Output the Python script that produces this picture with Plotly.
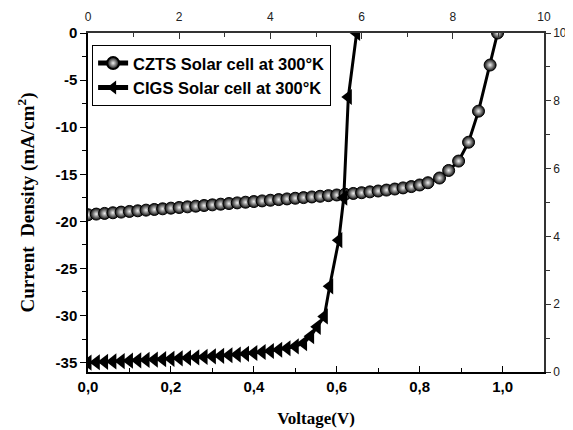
import plotly.graph_objects as go

# CZTS cell, J-V curve
czts_v = [0.00, 0.02, 0.04, 0.06, 0.08, 0.10, 0.12, 0.14, 0.16, 0.18,
          0.20, 0.22, 0.24, 0.26, 0.28, 0.30, 0.32, 0.34, 0.36, 0.38,
          0.40, 0.42, 0.44, 0.46, 0.48, 0.50, 0.52, 0.54, 0.56, 0.58,
          0.60, 0.62, 0.64, 0.66, 0.68, 0.70, 0.72, 0.74, 0.76, 0.78,
          0.80, 0.82, 0.848, 0.870, 0.894, 0.918, 0.942, 0.970, 0.988]
czts_j = [-19.30, -19.23, -19.16, -19.09, -19.02, -18.95, -18.88, -18.81, -18.74, -18.67,
          -18.60, -18.53, -18.46, -18.39, -18.32, -18.25, -18.18, -18.11, -18.04, -17.97,
          -17.90, -17.83, -17.76, -17.69, -17.62, -17.55, -17.48, -17.41, -17.34, -17.27,
          -17.20, -17.12, -17.04, -16.96, -16.87, -16.78, -16.68, -16.57, -16.45, -16.31,
          -16.14, -15.90, -15.40, -14.60, -13.60, -11.60, -8.30, -3.40, 0.00]

# CIGS cell
cigs_v = [0.00, 0.02, 0.04, 0.06, 0.08, 0.10, 0.12, 0.14, 0.16, 0.18,
          0.20, 0.22, 0.24, 0.26, 0.28, 0.30, 0.32, 0.34, 0.36, 0.38,
          0.40, 0.42, 0.44, 0.46, 0.48, 0.50, 0.52, 0.537, 0.553, 0.570,
          0.583, 0.605, 0.617, 0.628, 0.648]
cigs_j = [-35.00, -34.96, -34.92, -34.88, -34.84, -34.80, -34.76, -34.72, -34.68, -34.64,
          -34.60, -34.55, -34.50, -34.45, -34.40, -34.34, -34.28, -34.22, -34.15, -34.07,
          -33.98, -33.88, -33.77, -33.64, -33.48, -33.28, -32.95, -32.20, -31.20, -30.10,
          -26.90, -22.00, -17.50, -6.80, 0.00]

# left axis ticks, plain hyphen minus like the original
j_ticks = [0, -5, -10, -15, -20, -25, -30, -35]
j_tick_labels = ["0", "-5", "-10", "-15", "-20", "-25", "-30", "-35"]

sans = "Liberation Sans, Arial, sans-serif"
serif = "Liberation Serif, Times New Roman, serif"

fig = go.Figure()
fig.add_trace(go.Scatter(
    x=czts_v, y=czts_j, mode="lines+markers", name="CZTS Solar cell at 300°K",
    line=dict(color="black", width=3),
    marker=dict(symbol="circle", size=12, color="#0a0a0a",
                gradient=dict(type="radial", color="#f0f0f0"),
                line=dict(color="black", width=1))))
fig.add_trace(go.Scatter(
    x=cigs_v, y=cigs_j, mode="lines+markers", name="CIGS Solar cell at 300°K",
    line=dict(color="black", width=3),
    marker=dict(symbol="triangle-left", size=14, color="black")))
# empty trace so the top/right axes get drawn
fig.add_trace(go.Scatter(x=[None], y=[None], xaxis="x2", yaxis="y2",
                         showlegend=False, hoverinfo="skip"))

# page body has an 8px margin, so the figure is 8px smaller than the window
fig.update_layout(
    width=565, height=422,
    margin=dict(l=80, r=29, t=25, b=58, autoexpand=False),
    paper_bgcolor="white", plot_bgcolor="white",
    separators=",.",
    showlegend=True,
    legend=dict(x=0.009, y=0.965, xanchor="left", yanchor="top",
                bordercolor="black", borderwidth=1, bgcolor="white",
                font=dict(family=sans, size=16.5, color="black", weight="bold"),
                tracegroupgap=0, itemsizing="constant"),
    xaxis=dict(range=[0, 1.1], dtick=0.2, tick0=0, tickformat=".1f", automargin=False,
               showline=True, linecolor="black", linewidth=1.5, mirror=False,
               ticks="inside", ticklen=6, tickcolor="black",
               minor=dict(dtick=0.1, ticks="inside", ticklen=4, tickcolor="black"),
               showgrid=False, zeroline=False,
               tickfont=dict(family=sans, size=15, color="black", weight="bold"),
               title=dict(text="Voltage(V)", standoff=18,
                          font=dict(family=serif, size=17, color="black", weight="bold"))),
    yaxis=dict(range=[-36, 0], tickvals=j_ticks, ticktext=j_tick_labels, automargin=False,
               showline=True, linecolor="black", linewidth=1.5,
               ticks="outside", ticklen=6, tickcolor="black",
               minor=dict(dtick=2.5, ticks="outside", ticklen=4, tickcolor="black"),
               showgrid=False, zeroline=False,
               tickfont=dict(family=sans, size=15, color="black", weight="bold"),
               title=dict(text="Current\u00a0 Density (mA/cm<sup>2</sup>)", standoff=16,
                          font=dict(family=serif, size=19, color="black", weight="bold"))),
    xaxis2=dict(range=[0, 10], dtick=2, overlaying="x", side="top", anchor="y",
                automargin=False, ticklabelstandoff=5,
                showline=True, linecolor="#333", linewidth=1.5,
                ticks="inside", ticklen=6, tickcolor="#333",
                minor=dict(dtick=1, ticks="inside", ticklen=4, tickcolor="#333"),
                showgrid=False, zeroline=False,
                tickfont=dict(family=sans, size=12, color="#222")),
    yaxis2=dict(range=[0, 10], dtick=2, overlaying="y", side="right", anchor="x",
                automargin=False,
                showline=True, linecolor="#333", linewidth=1.5,
                ticks="outside", ticklen=5, tickcolor="#333",
                minor=dict(dtick=1, ticks="outside", ticklen=4, tickcolor="#333"),
                showgrid=False, zeroline=False,
                tickfont=dict(family=sans, size=12, color="#222")),
)

fig.write_html("out.html")
